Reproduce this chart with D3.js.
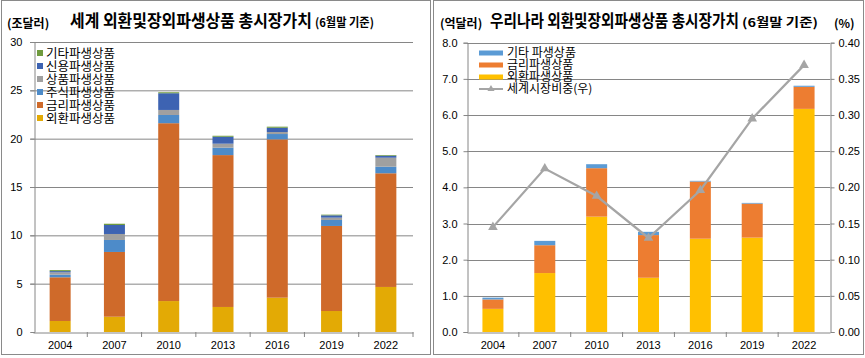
<!DOCTYPE html>
<html><head><meta charset="utf-8">
<script src="https://cdn.jsdelivr.net/npm/d3@7"></script>
<style>
body{margin:0;background:#fff;}
svg{display:block;font-family:"Noto Sans CJK KR","Noto Sans",sans-serif;}
</style></head><body>
<svg id="c" width="865" height="358"></svg>
<script>
const years = ["2004","2007","2010","2013","2016","2019","2022"];
// Left chart: world (trillion USD)
const worldFx     = [1.14, 1.58, 3.20, 2.59, 3.55, 2.17, 4.66];
const worldRate   = [4.52, 6.70, 18.40, 15.71, 16.38, 8.80, 11.76];
const worldEquity = [0.27, 1.24, 0.85, 0.77, 0.55, 0.62, 0.68];
const worldCommod = [0.24, 0.62, 0.52, 0.41, 0.21, 0.24, 0.93];
const worldCredit = [0.13, 0.93, 1.73, 0.72, 0.44, 0.24, 0.21];
const worldOther  = [0.10, 0.13, 0.10, 0.10, 0.11, 0.07, 0.07];
const leftTicks = [0,5,10,15,20,25,30];
// Right chart: Korea (100M USD)
const korFx    = [0.64, 1.63, 3.19, 1.50, 2.58, 2.61, 6.17];
const korRate  = [0.26, 0.77, 1.34, 1.18, 1.58, 0.94, 0.61];
const korOther = [0.05, 0.12, 0.11, 0.09, 0.02, 0.02, 0.03];
const korShare = [0.145, 0.226, 0.188, 0.130, 0.196, 0.295, 0.369];
const rightTicksL = [0,1,2,3,4,5,6,7,8];
const rightTicksR = [0,0.05,0.10,0.15,0.20,0.25,0.30,0.35,0.40];

const svg = d3.select("#c");
const gridC = "#868686";

svg.append("rect").attr("x",1.5).attr("y",0.5).attr("width",429).attr("height",354)
  .attr("fill","none").attr("stroke","#8a8a8a").attr("stroke-width",1);
svg.append("rect").attr("x",433.5).attr("y",0.5).attr("width",430).attr("height",354)
  .attr("fill","none").attr("stroke","#8a8a8a").attr("stroke-width",1);

function fitText(x, y, size, str, w){
  const t = svg.append("text").attr("x",0).attr("y",0).attr("font-size",size).attr("font-weight","bold").text(str);
  const nat = t.node().getComputedTextLength();
  const k = nat > 0 ? w/nat : 1;
  t.attr("transform",`translate(${x},${y}) scale(${k},1)`);
}
function title(x, y, main, mainW, sub, subW){
  fitText(x, y, 17, main, mainW);
  fitText(x+mainW+3, y, 12, sub, subW);
}

/* ---------- LEFT CHART ---------- */
{
  const x0=33, x1=413, yTop=42, yBot=332;
  const x = d3.scaleBand().domain(years).range([x0,x1]).padding(0);
  const y = d3.scaleLinear().domain([0,30]).range([yBot,yTop]);
  const bw = 21;
  svg.append("g").selectAll("line").data(leftTicks.filter(d=>d>0)).join("line")
    .attr("x1",x0-3).attr("x2",x1).attr("y1",d=>y(d)+0.5).attr("y2",d=>y(d)+0.5)
    .attr("stroke",gridC).attr("stroke-width",1);
  const ya = svg.append("g").attr("transform",`translate(${x0+1.5},0)`)
    .call(d3.axisLeft(y).tickValues(leftTicks).tickSize(4).tickPadding(8).tickFormat(d3.format("d")));
  ya.select(".domain").attr("stroke",gridC);
  ya.selectAll(".tick line").attr("stroke",gridC);
  ya.selectAll("text").attr("font-size",11).attr("fill","#000").attr("font-family","Liberation Sans, Arial, sans-serif");

  const keys = ["fx","rate","equity","commod","credit","other"];
  const colors = {fx:"#E3AA05", rate:"#CF6A2A", equity:"#4D8BC9", commod:"#A0A0A0", credit:"#3D63B2", other:"#6F9B3E"};
  const rows = years.map((yr,i)=>({year:yr, fx:worldFx[i], rate:worldRate[i], equity:worldEquity[i], commod:worldCommod[i], credit:worldCredit[i], other:worldOther[i]}));
  const stack = d3.stack().keys(keys)(rows);
  svg.append("g").selectAll("g").data(stack).join("g").attr("fill",d=>colors[d.key])
    .selectAll("rect").data(d=>d).join("rect")
    .attr("x",d=>x(d.data.year)+x.bandwidth()/2-bw/2).attr("width",bw)
    .attr("y",d=>y(d[1])).attr("height",d=>y(d[0])-y(d[1]));

  const xa = svg.append("g").attr("transform",`translate(0,${yBot+0.5})`)
    .call(d3.axisBottom(x).tickSize(0).tickPadding(9));
  xa.select(".domain").attr("stroke",gridC);
  xa.selectAll("text").attr("font-size",11).attr("fill","#000").attr("font-family","Liberation Sans, Arial, sans-serif");
  svg.append("g").selectAll("line").data(years.slice(1).concat(["end"])).join("line")
    .attr("x1",d=>d==="end"?x1:x(d)).attr("x2",d=>d==="end"?x1:x(d))
    .attr("y1",yBot).attr("y2",yBot+5).attr("stroke",gridC);

  const leg = [["기타파생상품","other"],["신용파생상품","credit"],["상품파생상품","commod"],["주식파생상품","equity"],["금리파생상품","rate"],["외환파생상품","fx"]];
  const lg = svg.append("g");
  leg.forEach((d,i)=>{
    const cy = 53 + i*13;
    lg.append("rect").attr("x",37).attr("y",cy-3).attr("width",6).attr("height",6).attr("fill",colors[d[1]]);
    lg.append("text").attr("x",46).attr("y",cy+4.5).attr("font-size",12.5).attr("fill","#000").text(d[0]);
  });

  svg.append("text").attr("x",7).attr("y",28).attr("font-size",12).attr("font-weight","bold").text("(조달러)");
  title(70, 27, "세계 외환및장외파생상품 총시장가치", 242, "(6월말 기준)", 59);
}

/* ---------- RIGHT CHART ---------- */
{
  const x0=467, x1=830, yTop=42.7, yBot=332;
  const x = d3.scaleBand().domain(years).range([x0,x1]).padding(0);
  const y = d3.scaleLinear().domain([0,8]).range([yBot,yTop]);
  const y2 = d3.scaleLinear().domain([0,0.40]).range([yBot,yTop]);
  const bw = 21;
  svg.append("g").selectAll("line").data(rightTicksL.filter(d=>d>0)).join("line")
    .attr("x1",x0).attr("x2",x1).attr("y1",d=>Math.round(y(d))+0.5).attr("y2",d=>Math.round(y(d))+0.5)
    .attr("stroke",gridC);
  const ya = svg.append("g").attr("transform",`translate(${x0+0.5},0)`)
    .call(d3.axisLeft(y).tickValues(rightTicksL).tickSize(4).tickPadding(6).tickFormat(d3.format(".1f")));
  ya.select(".domain").attr("stroke",gridC);
  ya.selectAll(".tick line").attr("stroke",gridC);
  ya.selectAll("text").attr("font-size",11).attr("fill","#000").attr("font-family","Liberation Sans, Arial, sans-serif");
  const yr = svg.append("g").attr("transform",`translate(${x1+0.5},0)`)
    .call(d3.axisRight(y2).tickValues(rightTicksR).tickSize(4).tickPadding(4).tickFormat(d3.format(".2f")));
  yr.select(".domain").attr("stroke",gridC);
  yr.selectAll(".tick line").attr("stroke",gridC);
  yr.selectAll("text").attr("font-size",11).attr("fill","#000").attr("font-family","Liberation Sans, Arial, sans-serif");

  const keys = ["fx","rate","other"];
  const colors = {fx:"#FFC000", rate:"#ED7D31", other:"#5B9BD5"};
  const rows = years.map((yr,i)=>({year:yr, fx:korFx[i], rate:korRate[i], other:korOther[i]}));
  const stack = d3.stack().keys(keys)(rows);
  svg.append("g").selectAll("g").data(stack).join("g").attr("fill",d=>colors[d.key])
    .selectAll("rect").data(d=>d).join("rect")
    .attr("x",d=>x(d.data.year)+x.bandwidth()/2-bw/2).attr("width",bw)
    .attr("y",d=>y(d[1])).attr("height",d=>y(d[0])-y(d[1]));

  const xa = svg.append("g").attr("transform",`translate(0,${yBot+0.5})`)
    .call(d3.axisBottom(x).tickSize(0).tickPadding(9));
  xa.select(".domain").attr("stroke",gridC);
  xa.selectAll("text").attr("font-size",11).attr("fill","#000").attr("font-family","Liberation Sans, Arial, sans-serif");
  svg.append("g").selectAll("line").data(years.slice(1)).join("line")
    .attr("x1",d=>x(d)).attr("x2",d=>x(d)).attr("y1",yBot).attr("y2",yBot+5).attr("stroke",gridC);

  const lineC = "#A5A5A5";
  const pts = years.map((yr,i)=>[x(yr)+x.bandwidth()/2, y2(korShare[i])]);
  svg.append("path").attr("d",d3.line()(pts)).attr("fill","none").attr("stroke",lineC).attr("stroke-width",2.25);
  const tri = d3.symbol().type(d3.symbolTriangle).size(40);
  svg.append("g").selectAll("path").data(pts).join("path")
    .attr("transform",d=>`translate(${d[0]},${d[1]})`).attr("d",tri).attr("fill",lineC);

  const lg = svg.append("g");
  const leg = [["기타 파생상품",colors.other],["금리파생상품",colors.rate],["외환파생상품",colors.fx]];
  leg.forEach((d,i)=>{
    const cy = 53 + i*12;
    lg.append("rect").attr("x",479).attr("y",cy-2.5).attr("width",24).attr("height",5).attr("fill",d[1]);
    lg.append("text").attr("x",507).attr("y",cy+4).attr("font-size",12).attr("fill","#000").text(d[0]);
  });
  const cyL = 53+36;
  lg.append("line").attr("x1",479).attr("x2",503).attr("y1",cyL).attr("y2",cyL).attr("stroke",lineC).attr("stroke-width",2);
  lg.append("path").attr("transform",`translate(491,${cyL})`).attr("d",d3.symbol().type(d3.symbolTriangle).size(22)).attr("fill",lineC);
  lg.append("text").attr("x",507).attr("y",cyL+4).attr("font-size",12).attr("fill","#000").text("세계시장비중(우)");

  svg.append("text").attr("x",440).attr("y",28).attr("font-size",12).attr("font-weight","bold").text("(억달러)");
  svg.append("text").attr("x",834).attr("y",28).attr("font-size",12).attr("font-weight","bold").text("(%)");
  title(490, 27, "우리나라 외환및장외파생상품 총시장가치", 249, "(6월말 기준)", 76);
}
</script></body></html>
